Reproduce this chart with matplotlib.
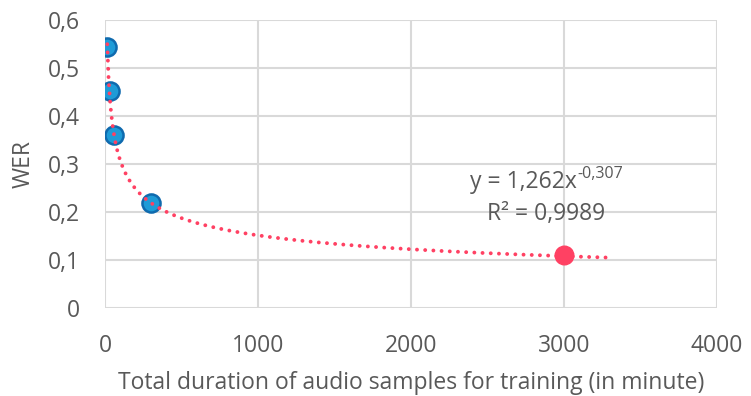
import numpy as np
import matplotlib
matplotlib.use("Agg")
import matplotlib.pyplot as plt

# data
duration = [15, 30, 60, 300]
wer = [0.544, 0.453, 0.36, 0.219]
last_duration = [3000]
last_wer = [0.11]

# power trendline shown on the chart
coef_a = 1.262
coef_b = -0.307
r2_text = "R² = 0,9989"

x_ticks = [0, 1000, 2000, 3000, 4000]
y_ticks = [0, 0.1, 0.2, 0.3, 0.4, 0.5, 0.6]

plt.rcParams['font.family'] = ['Open Sans', 'DejaVu Sans']
gray = '#595959'
grid_col = '#D9D9D9'

fig = plt.figure(figsize=(7.51, 3.96), dpi=100)
ax = fig.add_axes([0.1398, 0.2222, 0.8149, 0.7273])

# trend curve from the fitted formula
xs = np.linspace(duration[0], 3300, 400)
ax.plot(xs, coef_a * xs ** coef_b, color='#FF4163', lw=2.8,
        linestyle=(0, (0.01, 2.1)), dash_capstyle='round', zorder=4)

ax.scatter(duration, wer, s=170, color='#1E9BD7', edgecolor='#0F6AAE',
           linewidth=1.8, zorder=3)
ax.scatter(last_duration, last_wer, s=180, color='#FF4163', zorder=5)

ax.set_xlim(0, 4000)
ax.set_ylim(0, 0.6)
ax.set_xticks(x_ticks)
ax.set_yticks(y_ticks)
ax.set_xticklabels([str(v) for v in x_ticks])
ax.set_yticklabels(['0' if v == 0 else f'{v:.1f}'.replace('.', ',') for v in y_ticks])
ax.tick_params(length=0, labelsize=16.5, labelcolor=gray)
ax.tick_params(axis='y', pad=18)
ax.tick_params(axis='x', pad=19)
ax.grid(True, color=grid_col, lw=1.5)
ax.set_axisbelow(True)
for s in ax.spines.values():
    s.set_visible(False)

ax.set_xlabel('Total duration of audio samples for training (in minute)',
              fontsize=16.5, color=gray, labelpad=9)
ax.set_ylabel('WER', fontsize=16.5, color=gray, labelpad=9)

# equation label
t1 = ax.text(2735, 0.262, 'y = 1,262x', fontsize=16.5, color=gray,
             ha='center', va='center')
ax.annotate('-0,307', xy=(1, 1), xycoords=t1, xytext=(0, 3),
            textcoords='offset points', fontsize=11.5, color=gray,
            ha='left', va='top')
ax.text(2882, 0.195, r2_text, fontsize=16.5, color=gray, ha='center', va='center')

fig.savefig('out.png', dpi=100)
